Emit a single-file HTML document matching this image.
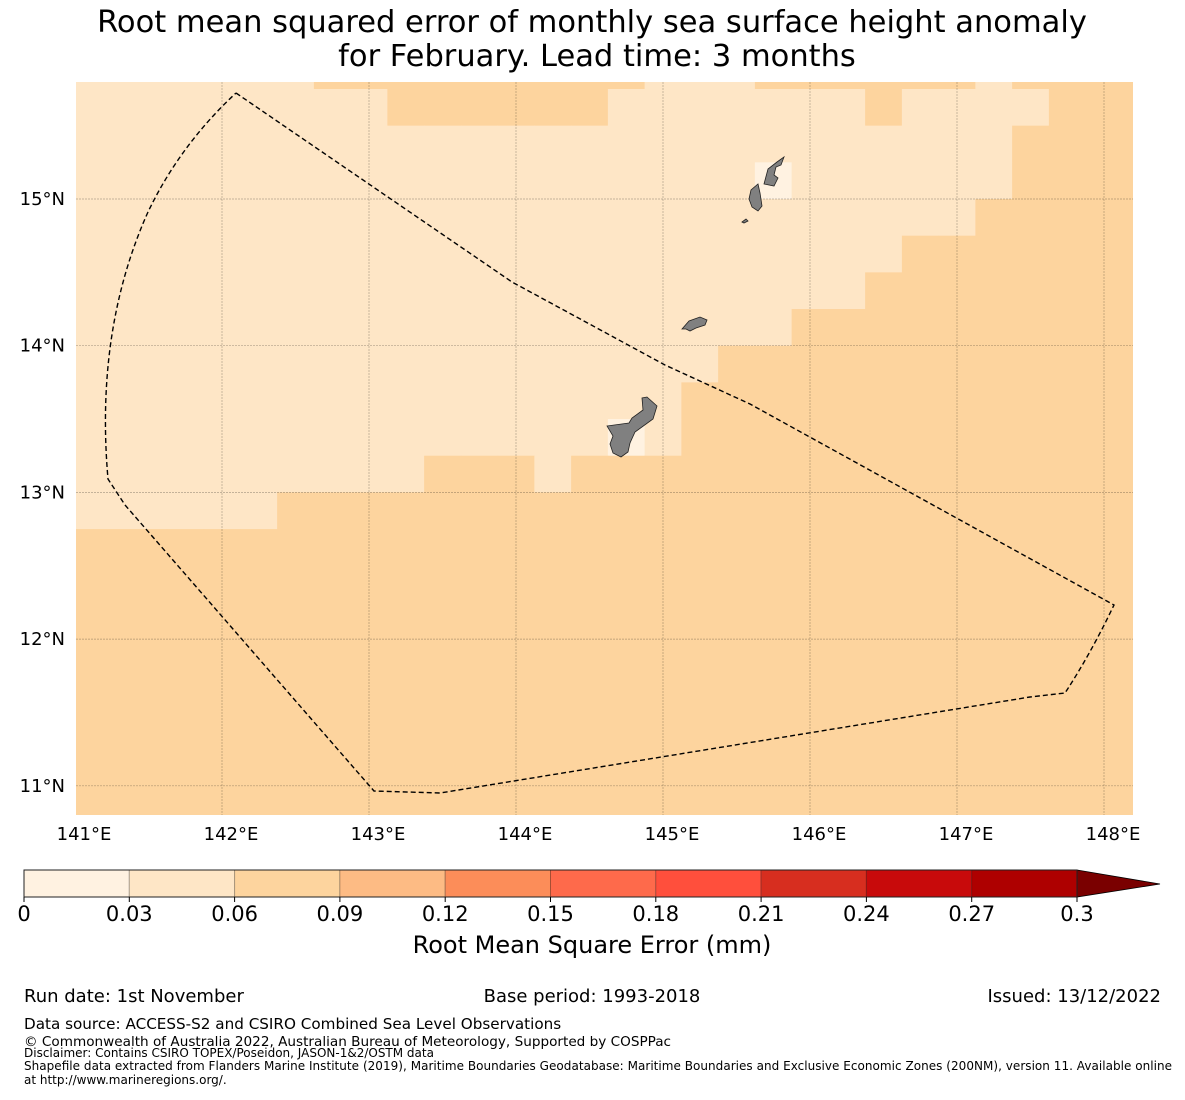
<!DOCTYPE html>
<html><head><meta charset="utf-8"><style>
body{margin:0;background:#fff;width:1185px;height:1095px;overflow:hidden;font-family:"Liberation Sans","DejaVu Sans",sans-serif;}
svg text{font-family:"DejaVu Sans","Liberation Sans",sans-serif;}
</style></head><body>
<svg id="s" width="1185" height="1095" xmlns="http://www.w3.org/2000/svg">
<text x="592" y="32" font-size="30.5" text-anchor="middle">Root mean squared error of monthly sea surface height anomaly</text>
<text x="597" y="66" font-size="30.5" text-anchor="middle">for February. Lead time: 3 months</text>
<defs><clipPath id="mc"><rect x="76" y="82" width="1057" height="733"/></clipPath></defs>
<g id="cells" clip-path="url(#mc)"></g>
<g id="grid" clip-path="url(#mc)"></g>
<g id="land" fill="#808080" stroke="#222" stroke-width="0.8">
<path d="M607,426 L629,423 L632,418 L643,410 L642,398 L647,397 L657,406 L653,419 L635,432 L630,443 L628,452 L621,457 L613,453 L610,444 L613,436 Z"/>
<path d="M682,329 L689,321 L700,317 L707,320 L705,325 L696,328 L690,331 L686,329 Z"/>
<path d="M749,199 L751,190 L758,184 L760,193 L762,206 L758,211 L752,207 Z"/>
<path d="M764,184 L768,169 L777,162 L784,157 L781,165 L776,167 L774,175 L778,178 L774,186 Z"/>
<path d="M742,222 L746,219 L748,221 L744,223 Z"/>
</g>
<path fill="none" stroke="#000" stroke-width="1.4" stroke-dasharray="5,3"
d="M236,93 L512,282 L665,365 L750,404 L1114,605 Q1090,655 1065,693 L1030,697 L440,793 L374,791 L125,505 L108,479 Q95,330 148,212 Q180,145 236,93"/>
<g id="axes"></g>
<g id="cbar"></g>
<text x="592" y="953" font-size="24" text-anchor="middle">Root Mean Square Error (mm)</text>
<g font-size="18">
<text x="24" y="1002">Run date: 1st November</text>
<text x="592" y="1002" text-anchor="middle">Base period: 1993-2018</text>
<text x="1161" y="1002" text-anchor="end">Issued: 13/12/2022</text>
<text x="24" y="1029" font-size="15.2">Data source: ACCESS-S2 and CSIRO Combined Sea Level Observations</text>
<text x="24" y="1046" font-size="13.6">© Commonwealth of Australia 2022, Australian Bureau of Meteorology, Supported by COSPPac</text>
<text x="24" y="1057" font-size="12">Disclaimer: Contains CSIRO TOPEX/Poseidon, JASON-1&amp;2/OSTM data</text>
<text x="24" y="1070" font-size="12" textLength="1148">Shapefile data extracted from Flanders Marine Institute (2019), Maritime Boundaries Geodatabase: Maritime Boundaries and Exclusive Economic Zones (200NM), version 11. Available online</text>
<text x="24" y="1084" font-size="12">at http://www.marineregions.org/.</text>
</g>
</svg>
<script>
// class index per 0.25° cell: 0 = 0-0.03, 1 = 0.03-0.06, 2 = 0.06-0.09
const gridRows = [
"111111122222222211122222212222",
"111111111222222111111121111222",
"111111111111111111111111112222",
"111111111111111111101111112222",
"111111111111111111111111122222",
"111111111111111111111112222222",
"111111111111111111111122222222",
"111111111111111111112222222222",
"111111111111111111222222222222",
"111111111111111112222222222222",
"111111111111111012222222222222",
"111111111122212222222222222222",
"111111222222222222222222222222",
"222222222222222222222222222222",
"222222222222222222222222222222",
"222222222222222222222222222222",
"222222222222222222222222222222",
"222222222222222222222222222222",
"222222222222222222222222222222",
"222222222222222222222222222222",
"222222222222222222222222222222"];
const rowTopLat = 16.0;
const colFirstLon = 141.0;
const cellDeg = 0.25;
const boundaries = [0,0.03,0.06,0.09,0.12,0.15,0.18,0.21,0.24,0.27,0.3];
const boundaryLabels = ["0","0.03","0.06","0.09","0.12","0.15","0.18","0.21","0.24","0.27","0.3"];
const classColors = ["#fff2e1","#fee6c6","#fdd49e","#fdbb84","#fc8d59","#fe6a4b","#ff4f3c","#d72e1f","#c80a0b","#ae0000","#7a0000"];
const lonTicks = [141,142,143,144,145,146,147,148];
const latTicks = [11,12,13,14,15];

const NS="http://www.w3.org/2000/svg";
const X = lon => 75 + 147*(lon-141);
const Y = lat => 199 + 146.7*(15-lat);
function mk(t,a,p){const e=document.createElementNS(NS,t);for(const k in a)e.setAttribute(k,a[k]);p.appendChild(e);return e;}
const cells=document.getElementById('cells');
gridRows.forEach((row,r)=>{
  [...row].forEach((ch,c)=>{
    const lonL=colFirstLon+c*cellDeg-cellDeg/2, latT=rowTopLat-r*cellDeg;
    const x0=X(lonL), x1=X(lonL+cellDeg), y0=Y(latT), y1=Y(latT-cellDeg);
    const e=mk('rect',{x:x0,y:y0,width:x1-x0+0.5,height:y1-y0+0.5,fill:classColors[+ch]},cells);
    
    
  });
});
const grid=document.getElementById('grid'), axes=document.getElementById('axes');
lonTicks.forEach(l=>{
  const g=mk('line',{x1:X(l),x2:X(l),y1:82,y2:815,stroke:'#000','stroke-opacity':0.3,'stroke-width':0.7,'stroke-dasharray':'2,1'},grid);
  
  
  const t=mk('text',{x:X(l)+9,y:840,'font-size':18,'text-anchor':'middle'},axes);
  t.textContent=l+'°E';
  
  
});
latTicks.forEach(l=>{
  const g=mk('line',{x1:76,x2:1133,y1:Y(l),y2:Y(l),stroke:'#000','stroke-opacity':0.3,'stroke-width':0.7,'stroke-dasharray':'2,1'},grid);
  
  
  const t=mk('text',{x:65,y:Y(l)+6,'font-size':18,'text-anchor':'end'},axes);
  t.textContent=l+'°N';
  
  
});
const cb=document.getElementById('cbar');
const CX = v => 24 + (1077-24)*(v/0.3);
for(let i=0;i<boundaries.length-1;i++){
  const e=mk('rect',{x:CX(boundaries[i]),y:870,width:CX(boundaries[i+1])-CX(boundaries[i]),height:27,fill:classColors[i],stroke:'#000','stroke-opacity':0.25,'stroke-width':1},cb);
  
  
}
const tri=mk('polygon',{points:`${CX(0.3)},870 1160,884 ${CX(0.3)},897`,fill:classColors[10],stroke:'#000','stroke-width':0.8},cb);


const fr=mk('rect',{x:24,y:870,width:CX(0.3)-24,height:27,fill:'none',stroke:'#222','stroke-width':1},cb);


boundaries.forEach((b,i)=>{
  mk('line',{x1:CX(b),x2:CX(b),y1:897,y2:902,stroke:'#000'},cb);
  const t=mk('text',{x:CX(b),y:921,'font-size':21,'text-anchor':'middle'},cb);
  t.textContent=boundaryLabels[i];
  
  
});
</script>
</body></html>
